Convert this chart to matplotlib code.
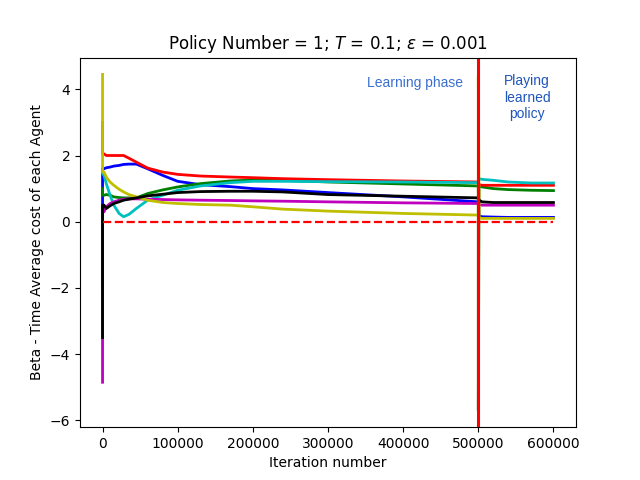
import matplotlib
matplotlib.use('Agg')
import matplotlib.pyplot as plt
import numpy as np

# iteration points (learning phase up to 500000, then playing learned policy)
iters = [0, 0, 2000, 5000, 10000, 15000, 22000, 28000, 35000, 45000, 60000,
         80000, 100000, 130000, 170000, 200000, 240000, 300000, 400000, 500000,
         500000, 501000, 505000, 520000, 540000, 570000, 600000]

agent_b = [-2.0, 1.6, 1.6, 1.63, 1.65, 1.68, 1.7, 1.73, 1.74, 1.74, 1.6,
           1.4, 1.22, 1.12, 1.06, 1.0, 0.96, 0.88, 0.75, 0.6,
           0.6, 0.17, 0.15, 0.14, 0.13, 0.13, 0.13]
agent_g = [1.0, 0.8, 0.8, 0.82, 0.8, 0.75, 0.73, 0.72, 0.72, 0.72, 0.85,
           0.96, 1.05, 1.15, 1.23, 1.26, 1.25, 1.2, 1.14, 1.08,
           -5.7, 1.08, 1.05, 1.0, 0.97, 0.95, 0.94]
agent_r = [3.0, 2.05, 2.05, 2.0, 2.0, 2.0, 2.0, 2.0, 1.92, 1.8, 1.62,
           1.5, 1.43, 1.38, 1.35, 1.33, 1.3, 1.27, 1.23, 1.2,
           1.2, 1.12, 1.1, 1.1, 1.1, 1.1, 1.1]
agent_c = [1.5, 1.45, 1.4, 1.15, 0.8, 0.5, 0.25, 0.15, 0.22, 0.4, 0.65,
           0.8, 0.95, 1.08, 1.18, 1.22, 1.22, 1.21, 1.2, 1.18,
           1.18, 1.3, 1.28, 1.25, 1.2, 1.17, 1.17]
agent_m = [-4.85, 0.3, 0.3, 0.45, 0.55, 0.6, 0.65, 0.68, 0.69, 0.69, 0.68,
           0.67, 0.66, 0.65, 0.64, 0.63, 0.62, 0.6, 0.57, 0.55,
           0.55, 0.52, 0.5, 0.5, 0.5, 0.5, 0.5]
agent_y = [4.45, 1.5, 1.5, 1.35, 1.2, 1.1, 0.98, 0.9, 0.82, 0.75, 0.65,
           0.58, 0.55, 0.52, 0.5, 0.45, 0.38, 0.32, 0.25, 0.2,
           4.4, 0.12, 0.1, 0.1, 0.1, 0.1, 0.1]
agent_k = [-3.5, 0.5, 0.5, 0.4, 0.48, 0.55, 0.6, 0.65, 0.68, 0.72, 0.78,
           0.83, 0.88, 0.91, 0.92, 0.92, 0.9, 0.82, 0.77, 0.72,
           0.72, 0.65, 0.6, 0.58, 0.58, 0.58, 0.58]

agents = [('b', agent_b), ('g', agent_g), ('r', agent_r), ('c', agent_c),
          ('m', agent_m), ('y', agent_y), ('k', agent_k)]

switch_iter = 500000
total_iter = 600000

fig, ax = plt.subplots(figsize=(6.4, 4.8), dpi=100)

for col, vals in agents:
    ax.plot(iters, vals, color=col, linewidth=2)

ax.plot([0, total_iter], [0, 0], 'r--', linewidth=1.6)
ax.axvline(switch_iter, color='r', linewidth=2.2)

ax.text(416000, 4.2, 'Learning phase', color='#3a6fd0', ha='center',
        va='center', fontsize=10, family=['Liberation Sans', 'DejaVu Sans'])
ax.text(565000, 3.75, 'Playing\nlearned\npolicy', color='#1f55bb',
        ha='center', va='center', fontsize=10,
        family=['Liberation Sans', 'DejaVu Sans'])

ax.set_title(r'Policy Number = 1; $T$ = 0.1; $\epsilon$ = 0.001')
ax.set_xlabel('Iteration number')
ax.set_ylabel('Beta - Time Average cost of each Agent')

fig.savefig('out.png', dpi=100)
